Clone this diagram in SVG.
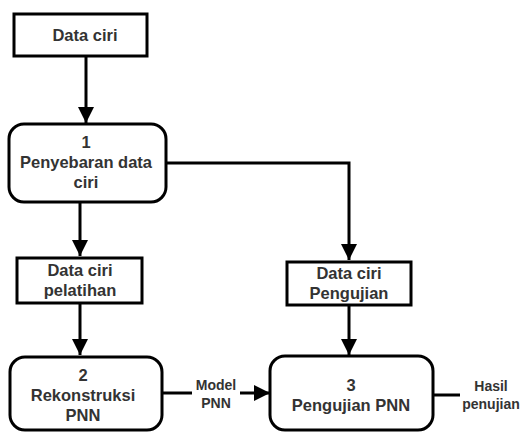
<svg xmlns="http://www.w3.org/2000/svg" width="525" height="432" viewBox="0 0 525 432">
<defs>
<marker id="ah" markerUnits="userSpaceOnUse" markerWidth="16" markerHeight="18" refX="16" refY="8" orient="auto">
<path d="M0,0 L16,8 L0,16 Z" fill="#000"/>
</marker>
<style>
.box{fill:#fff;stroke:#000;stroke-width:3}
.proc{fill:#fff;stroke:#000;stroke-width:3}
.t{font-family:"Liberation Sans",Arial,sans-serif;font-weight:bold;font-size:16.5px;fill:#333;text-anchor:middle}
.s{font-family:"Liberation Sans",Arial,sans-serif;font-weight:bold;font-size:14px;fill:#333;text-anchor:middle}
.c{fill:none;stroke:#000;stroke-width:3}
</style>
</defs>
<rect width="525" height="432" fill="#fff"/>
<g id="connectors">
<path class="c" d="M86,56 V123" marker-end="url(#ah)"/>
<path class="c" d="M166,163 H349 V260" marker-end="url(#ah)"/>
<path class="c" d="M80,202 V256" marker-end="url(#ah)"/>
<path class="c" d="M80,303 V355" marker-end="url(#ah)"/>
<path class="c" d="M349,305 V355" marker-end="url(#ah)"/>
<path class="c" d="M162,393 H192"/>
<path class="c" d="M240,393 H270" marker-end="url(#ah)"/>
<path class="c" d="M433,395 H460"/>
</g>
<g id="data-ciri">
<rect class="box" x="14" y="14" width="133" height="42"/>
<text class="t" x="85" y="41">Data ciri</text>
</g>
<g id="proc1">
<rect class="proc" x="9" y="124" width="157" height="78" rx="15"/>
<text class="t" x="86" y="148">1</text>
<text class="t" x="86" y="168">Penyebaran data</text>
<text class="t" x="86" y="188">ciri</text>
</g>
<g id="data-pelatihan">
<rect class="box" x="17" y="258" width="125" height="45"/>
<text class="t" x="80" y="276">Data ciri</text>
<text class="t" x="80" y="296">pelatihan</text>
</g>
<g id="data-pengujian">
<rect class="box" x="287" y="262" width="124" height="43"/>
<text class="t" x="349" y="279">Data ciri</text>
<text class="t" x="349" y="299">Pengujian</text>
</g>
<g id="proc2">
<rect class="proc" x="10" y="357" width="152" height="73" rx="15"/>
<text class="t" x="83" y="381">2</text>
<text class="t" x="83" y="401">Rekonstruksi</text>
<text class="t" x="83" y="421">PNN</text>
</g>
<g id="proc3">
<rect class="proc" x="270" y="356" width="163" height="74" rx="15"/>
<text class="t" x="351" y="391">3</text>
<text class="t" x="351" y="411">Pengujian PNN</text>
</g>
<g id="label-model">
<text class="s" x="216" y="390">Model</text>
<text class="s" x="216" y="408">PNN</text>
</g>
<g id="label-hasil">
<text class="s" x="491" y="391">Hasil</text>
<text class="s" x="491" y="409">penujian</text>
</g>
</svg>
